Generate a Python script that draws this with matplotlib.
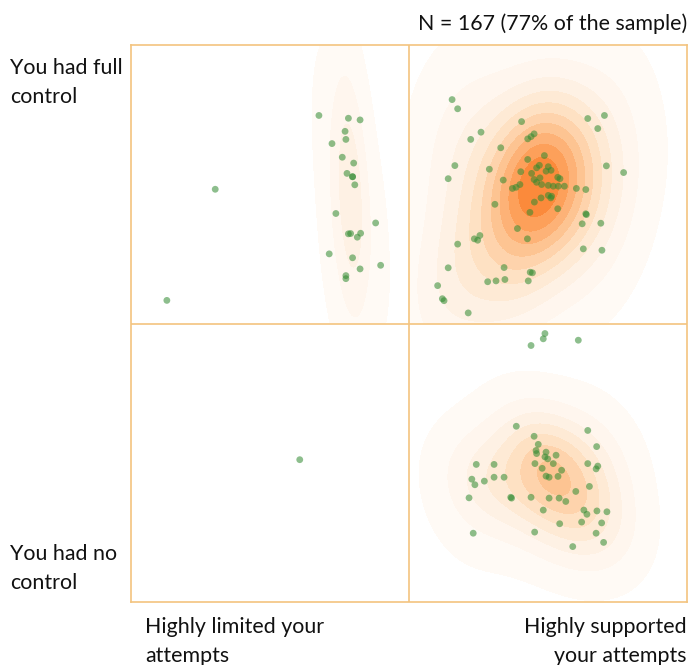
import numpy as np
import matplotlib
matplotlib.use("Agg")
import matplotlib.pyplot as plt
from matplotlib.colors import LinearSegmentedColormap

# Respondents: support for attempts (x, -100..100) vs. sense of control (y, -100..100)
# group: respondent cluster used for the density shading (None = isolated answer)
support = [
    # limited support, full control
    -32.4, -21.8, -17.6, -23.0, -22.7, -27.7, -24.0, -19.9, -22.3, -20.3, -20.3,
    -19.5, -69.7, -26.3, -12.0, -21.8, -21.0, -17.4, -18.6, -28.7, -20.3, -17.6,
    -10.2, -22.7, -22.7, -87.1,
    # supported, full control
    15.5, 17.5, 40.5, 64.3, 70.3, 67.9, 25.9, 22.2, 42.7, 43.9, 45.0, 33.0, 16.5,
    71.0, 77.2, 14.1, 28.9, 42.7, 48.7, 45.9, 46.9, 40.2, 44.1, 50.1, 51.1, 49.3,
    53.5, 54.3, 33.9, 37.2, 38.5, 39.9, 45.0, 45.9, 47.1, 47.7, 50.1, 51.9, 53.7,
    55.9, 60.2, 63.6, 47.5, 45.1, 50.1, 51.0, 51.3, 30.9, 53.5, 43.5, 63.8, 63.6,
    62.3, 69.0, 39.0, 23.5, 24.7, 25.5, 17.5, 42.6, 62.7, 69.4, 14.1, 34.2, 43.6,
    44.4, 28.3, 31.3, 34.5, 42.9, 10.3, 12.0, 12.6, 21.3,
    # supported, no control
    48.9, 48.3, 43.9, 60.9, 38.6, 64.3, 45.0, 67.5, 46.5, 45.7, 45.9, 49.3, 48.9,
    49.9, 52.9, 45.3, 47.9, 51.9, 54.9, 64.3, 67.9, 67.3, 24.2, 30.6, 22.6, 23.7,
    27.1, 30.6, 34.2, 49.3, 50.4, 53.6, 64.9, 60.0, 21.6, 36.6, 36.9, 43.9, 50.4,
    54.0, 56.4, 48.3, 62.9, 64.0, 67.6, 71.2, 62.1, 69.3, 54.2, 45.2, 67.3, 70.0,
    58.9, 23.1,
    # limited support, no control
    -39.3,
]
control = [
    74.7, 73.7, 73.1, 69.0, 66.1, 64.6, 59.7, 57.6, 53.9, 52.7, 52.7,
    49.8, 48.2, 39.5, 36.1, 32.2, 32.3, 32.4, 31.0, 25.0, 23.6, 19.6,
    20.9, 17.2, 16.1, 8.3,
    80.4, 77.1, 72.5, 73.6, 74.7, 70.0, 68.7, 66.1, 66.3, 67.1, 68.1, 63.1, 56.7,
    56.6, 54.2, 52.0, 55.4, 58.9, 60.3, 55.9, 56.8, 54.5, 53.9, 56.3, 55.0, 54.7,
    52.5, 52.0, 51.5, 48.5, 48.9, 49.9, 51.7, 50.7, 52.3, 49.9, 49.6, 49.3, 49.3,
    49.3, 48.5, 48.1, 45.1, 43.6, 46.0, 45.1, 45.7, 42.8, 41.2, 39.9, 39.1, 39.4,
    35.8, 36.0, 34.1, 30.4, 29.9, 31.6, 28.5, 30.4, 26.8, 26.3, 20.0, 20.1, 18.4,
    18.2, 15.0, 15.3, 15.8, 15.3, 13.6, 8.9, 8.2, 3.8,
    -3.6, -5.5, -7.9, -6.0, -36.9, -38.4, -40.5, -44.2, -43.4, -45.6, -46.7, -46.2, -47.9,
    -48.6, -47.3, -50.3, -52.0, -50.3, -52.7, -50.3, -51.2, -52.2, -50.6, -50.6, -55.9, -57.9,
    -56.6, -55.2, -55.2, -54.8, -55.2, -54.9, -58.5, -60.3, -62.6, -62.4, -62.7, -62.4, -62.7,
    -62.7, -63.9, -67.0, -67.0, -68.5, -67.3, -67.6, -71.3, -71.6, -71.9, -74.9, -75.3, -78.6,
    -80.1, -75.3,
    -48.9,
]
group = (["A"] * 12 + [None] + ["A"] * 12 + [None]
         + ["B"] * 74
         + [None] * 4 + ["C"] * 50
         + [None])
# relative shading strength of each cluster's peak
peak_share = {"A": 0.3, "B": 1.0, "C": 0.65}

title_text = "N = 167 (77% of the sample)"
y_top_label = "You had full\ncontrol"
y_bottom_label = "You had no\ncontrol"
x_left_label = "Highly limited your\nattempts"
x_right_label = "Highly supported\nyour attempts"

frame_color = "#f3c47f"
dot_color = "#2f8a2f"
shade = plt.cm.Oranges(np.linspace(0.0, 0.56, 256))
shade[:, :3] = 1 - (1 - shade[:, :3]) * np.linspace(0.35, 1.0, 256)[:, None]
density_cmap = LinearSegmentedColormap.from_list("soft_oranges", shade)

x = np.asarray(support, float)
y = np.asarray(control, float)
g = np.asarray(group, dtype=object)


def gaussian_kde_grid(px, py, gx, gy, adjust=(1.0, 1.0)):
    """Scott-rule Gaussian KDE with per-axis bandwidth scaling."""
    pts = np.vstack([px, py])
    n = pts.shape[1]
    factor = n ** (-1.0 / 6.0)
    s = np.diag(adjust)
    cov = s @ np.cov(pts) @ s * factor ** 2
    inv = np.linalg.inv(cov)
    dens = np.zeros_like(gx)
    for xi, yi in zip(px, py):
        dx = gx - xi
        dy = gy - yi
        q = inv[0, 0] * dx * dx + 2 * inv[0, 1] * dx * dy + inv[1, 1] * dy * dy
        dens += np.exp(-0.5 * q)
    return dens


gx, gy = np.meshgrid(np.linspace(-100, 100, 500), np.linspace(-100, 100, 500))
density = np.zeros_like(gx)
for name in ["A", "B", "C"]:
    m = g == name
    d = gaussian_kde_grid(x[m], y[m], gx, gy, adjust=(1.45, 2.2))
    d = d / d.max() * peak_share[name]
    sx = np.sign(np.median(x[m]))
    sy = np.sign(np.median(y[m]))
    d[(np.sign(gx) != sx) | (np.sign(gy) != sy)] = 0.0
    density += d

fig = plt.figure(figsize=(6.9, 6.65), dpi=100)
ax = fig.add_axes([131 / 690, 63 / 665, 556 / 690, 557 / 665])

levels = np.append(np.linspace(0.03, 1.0, 11), 1.01)
ax.contourf(gx, gy, density, levels=levels, cmap=density_cmap, zorder=1)
ax.scatter(x, y, s=24, color=dot_color, alpha=0.55, edgecolors="none", zorder=3)

ax.axvline(0, color=frame_color, lw=1.2, zorder=2)
ax.axhline(0, color=frame_color, lw=1.2, zorder=2)
ax.set_xlim(-100, 100)
ax.set_ylim(-100, 100)
ax.set_xticks([])
ax.set_yticks([])
for sp in ax.spines.values():
    sp.set_color(frame_color)
    sp.set_linewidth(1.2)

font = dict(family="Lato", fontsize=15.4, color="#111111", linespacing=1.55)
fig.text(687 / 690, 1 - 13 / 665, title_text, ha="right", va="top", **font)
fig.text(10 / 690, 1 - 58 / 665, y_top_label, ha="left", va="top", **font)
fig.text(10 / 690, 1 - 544 / 665, y_bottom_label, ha="left", va="top", **font)
fig.text(145 / 690, 1 - 617 / 665, x_left_label, ha="left", va="top", **font)
fig.text(687 / 690, 1 - 617 / 665, x_right_label, ha="right", va="top",
         multialignment="right", **font)

fig.savefig("out.png", dpi=100)
